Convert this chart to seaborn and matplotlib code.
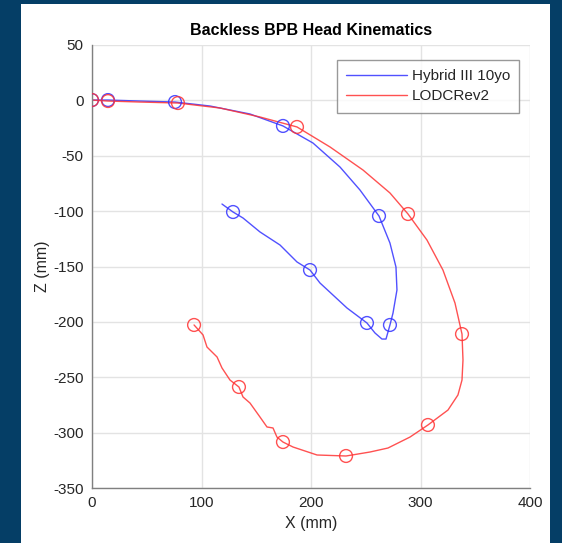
import matplotlib
matplotlib.use("Agg")
import matplotlib.pyplot as plt
import seaborn as sns
import pandas as pd
from matplotlib.patches import Rectangle

# ---- data ----
hyb_x = [0, 14.6, 43.8, 75.8, 107.8, 144.3, 174.4, 201.8, 226.5, 244.7, 262.1, 272.1, 277.6, 278.5,
         274.9, 272.1, 268.5, 264.8, 258.4, 251.1, 232.9, 208.2, 199.1, 187.2, 171.7, 153.4,
         137.9, 128.8, 118.7]
hyb_z = [0.3, 0.3, -0.6, -1.5, -5.1, -12.3, -23.1, -38.5, -60.2, -80.9, -104.4, -128.8, -150.5, -171.2,
         -192.0, -202.8, -215.5, -215.5, -210.0, -201.0, -187.5, -164.9, -153.2, -145.9, -130.6, -118.8,
         -106.2, -100.8, -93.6]
hyb_mx = [0, 14.6, 75.8, 174.4, 262.1, 272.1, 251.1, 199.1, 128.8]
hyb_mz = [0.3, 0.3, -1.5, -23.1, -104.4, -202.8, -201, -153.2, -100.8]

lod_x = [0, 14.6, 43.8, 78.5, 116.9, 153.4, 187.2, 217.4, 247.5, 272.1, 288.6, 305.9, 320.5, 331.5,
         337.9, 338.8, 337.9, 334.2, 325.1, 306.8, 290.4, 270.3, 253.9, 232.0, 205.5, 183.6, 174.4,
         168.9, 165.3, 159.8, 153.4, 144.3, 137.9, 134.2, 126.0, 118.7, 114.2, 105.0, 101.4, 93.2]
lod_z = [0.3, -0.6, -1.5, -2.4, -6.9, -15.0, -24.0, -42.1, -62.9, -83.6, -102.6, -126.1, -153.2, -183.0,
         -211.0, -234.4, -252.5, -266.0, -279.6, -293.1, -304.0, -313.9, -317.5, -321.1, -320.2, -313.0,
         -308.5, -304.0, -295.8, -294.9, -285.9, -273.3, -267.8, -258.8, -252.5, -241.6, -231.7, -222.7,
         -211.8, -202.8]
lod_mx = [0, 14.6, 78.5, 187.2, 288.6, 337.9, 306.8, 232.0, 174.4, 134.2, 93.2]
lod_mz = [0.3, -0.6, -2.4, -24.0, -102.6, -211.0, -293.1, -321.1, -308.5, -258.8, -202.8]

x_ticks = [0, 100, 200, 300, 400]
z_ticks = [50, 0, -50, -100, -150, -200, -250, -300, -350]

title = "Backless BPB Head Kinematics"
labels = ["Hybrid III 10yo", "LODCRev2"]
colors = ["#3333ff", "#ff3333"]

# ---- figure ----
sns.set_theme(style="whitegrid")
plt.rcParams['font.family'] = ['Liberation Sans', 'DejaVu Sans']
plt.rcParams['axes.unicode_minus'] = False

fig = plt.figure(figsize=(5.62, 5.43), dpi=100)
fig.patch.set_facecolor("#053e66")
panel = Rectangle((21/562, 0), (550-21)/562, 1 - 4/543, transform=fig.transFigure,
                  facecolor="white", edgecolor="none", zorder=-10)
fig.add_artist(panel)
ax = fig.add_axes([92/562, 1 - 488/543, (530-92)/562, (488-45)/543])
ax.set_zorder(5)
ax.set_facecolor("white")

df_h = pd.DataFrame({"x": hyb_x, "z": hyb_z})
df_l = pd.DataFrame({"x": lod_x, "z": lod_z})
sns.lineplot(data=df_h, x="x", y="z", sort=False, estimator=None, ax=ax,
             color=colors[0], lw=1.0, alpha=0.85, label=labels[0])
sns.lineplot(data=df_l, x="x", y="z", sort=False, estimator=None, ax=ax,
             color=colors[1], lw=1.0, alpha=0.85, label=labels[1])

ax.scatter(hyb_mx, hyb_mz, s=85, facecolors="none", edgecolors=colors[0], linewidths=1.0, alpha=0.85, zorder=3)
ax.scatter(lod_mx, lod_mz, s=85, facecolors="none", edgecolors=colors[1], linewidths=1.0, alpha=0.85, zorder=3)

ax.set_xlim(0, 400)
ax.set_ylim(-350, 50)
ax.set_xticks(x_ticks)
ax.set_yticks(z_ticks)
ax.grid(True, color="#e3e3e3", lw=1.0)
for s in ["top", "right"]:
    ax.spines[s].set_visible(False)
for s in ["left", "bottom"]:
    ax.spines[s].set_visible(True)
    ax.spines[s].set_color("#808080")
    ax.spines[s].set_linewidth(1.0)
ax.tick_params(axis="both", direction="in", length=4, width=1, color="#808080",
               labelsize=11, labelcolor="#262626", pad=6)
ax.set_xlabel("X (mm)", fontsize=11.5, color="#262626", labelpad=4)
ax.set_ylabel("Z (mm)", fontsize=11.5, color="#262626", labelpad=2)
ax.set_title(title, fontsize=11.5, fontweight="bold", color="black", pad=7)

leg = ax.legend(loc="upper right", bbox_to_anchor=(0.993, 0.983), fontsize=11, frameon=True,
                fancybox=False, edgecolor="#808080", handlelength=4.0, borderpad=0.6,
                labelspacing=0.4, handletextpad=0.3)
leg.get_frame().set_linewidth(1.0)

fig.savefig("out.png", dpi=100, facecolor=fig.get_facecolor())
